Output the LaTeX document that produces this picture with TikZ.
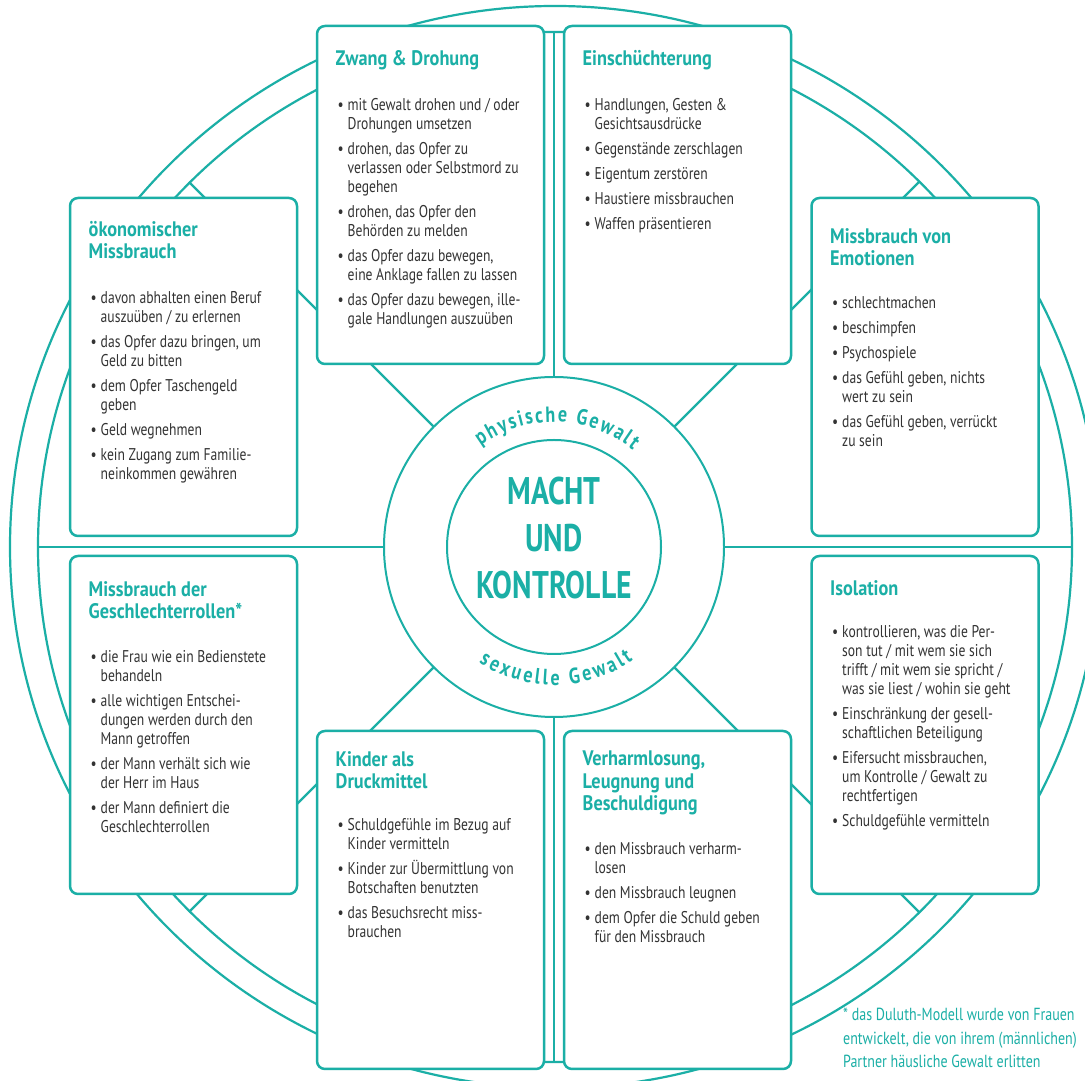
\documentclass[tikz,border=0pt]{standalone}
\usepackage{fontspec}
\usepackage{xcolor}
\usepackage{tikz}
\usetikzlibrary{positioning, calc, decorations.text}
\setmainfont{PT Sans}
\newfontfamily\bodyfont{PT Sans}[FakeStretch=0.80]
\newfontfamily\headfont{PT Sans}[FakeStretch=0.87]
\newfontfamily\corefont{PT Sans}[FakeStretch=0.77]
\newfontfamily\ringfont{PT Sans Bold}[FakeStretch=0.82]
\definecolor{wheelteal}{HTML}{1BAFA6}
\definecolor{inkgray}{HTML}{333333}
\newcommand{\bul}{\makebox[10pt][l]{\textbullet}}
\newcommand{\ind}{\hspace*{10pt}}
\newcommand{\arcfont}{\ringfont\fontsize{22}{24}\selectfont}

\begin{document}
\begin{tikzpicture}[
    x=1pt, y=1pt,
    rim/.style={draw=wheelteal, line width=2.2pt},
    spoke/.style={draw=wheelteal, line width=2.2pt},
    hubring/.style={circle, draw=wheelteal, line width=2pt, fill=white, inner sep=0pt, outer sep=0pt},
    panel/.style={rectangle, draw=wheelteal, line width=2.5pt, rounded corners=8pt, fill=white, minimum width=227pt, minimum height=338pt, inner sep=0pt, outer sep=0pt},
    heading/.style={anchor=north west, inner sep=0pt, align=left, text=wheelteal, font=\headfont\bfseries\fontsize{21}{22.5}\selectfont},
    points/.style={anchor=north west, inner sep=0pt, align=left, text=inkgray, font=\bodyfont\fontsize{17}{19}\selectfont},
    core/.style={align=center, inner sep=0pt, text=wheelteal, font=\corefont\bfseries\fontsize{38.5}{47}\selectfont},
    arctext/.style={decorate, font=\arcfont, decoration={text along path, text align={fit to path}, text color=wheelteal}}
]
\clip (0,0) rectangle (1085,1081);
\fill[white] (0,0) rectangle (1085,1081);

% Wheel rims
\draw[rim] (555,534) ellipse [x radius=545, y radius=541];
\draw[rim] (555,534) ellipse [x radius=517, y radius=515];

\coordinate (rimN) at (554,1049);
\coordinate (rimS) at (554,19);
\coordinate (rimW) at (38,534);
\coordinate (rimE) at (1072,534);
\coordinate (rimNW) at (189,899);
\coordinate (rimNE) at (919,899);
\coordinate (rimSW) at (189,169);
\coordinate (rimSE) at (919,169);

% Hub and spokes
\node[hubring, minimum size=340pt] (hub) at (554,534) {};
\node[hubring, minimum size=214pt] (inner) at (hub.center) {};
\draw[spoke] (hub.north) -- (rimN);
\draw[spoke] (hub.south) -- (rimS);
\draw[spoke] (hub.west) -- (rimW);
\draw[spoke] (hub.east) -- (rimE);
\draw[spoke] (hub.north west) -- (rimNW);
\draw[spoke] (hub.north east) -- (rimNE);
\draw[spoke] (hub.south west) -- (rimSW);
\draw[spoke] (hub.south east) -- (rimSE);

\node[core] (macht) at (554,543) {MACHT\\UND\\KONTROLLE};
\path[arctext, decoration={text={|\arcfont|physische Gewalt}}]
    ($(hub.center)+(126:125)$) arc[start angle=126, end angle=51, radius=125];
\path[arctext, decoration={text={|\arcfont|sexuelle Gewalt}}]
    ($(hub.center)+(237:138)$) arc[start angle=237, end angle=305, radius=138];

% Zwang & Drohung
\node[panel] (zwang) at (430.5,886) {};
\node[heading, below right=24pt and 18.5pt of zwang.north west] (zwanghead) {Zwang \& Drohung};
\node[points, below right=72pt and 20.5pt of zwang.north west] (zwangpts) {\bul mit Gewalt drohen und / oder\\\ind Drohungen umsetzen
 \\[6pt]\bul drohen, das Opfer zu\\\ind verlassen oder Selbstmord zu\\\ind begehen
 \\[6pt]\bul drohen, das Opfer den\\\ind Behörden zu melden
 \\[6pt]\bul das Opfer dazu bewegen,\\\ind eine Anklage fallen zu lassen
 \\[6pt]\bul das Opfer dazu bewegen, ille-\\\ind gale Handlungen auszuüben};

% Einschuechterung
\node[panel, right=20pt of zwang] (einsch) {};
\node[heading, below right=24pt and 18.5pt of einsch.north west] (einschhead) {Einschüchterung};
\node[points, below right=72pt and 20.5pt of einsch.north west] (einschpts) {\bul Handlungen, Gesten \&\\\ind Gesichtsausdrücke
 \\[6pt]\bul Gegenstände zerschlagen
 \\[6pt]\bul Eigentum zerstören
 \\[6pt]\bul Haustiere missbrauchen
 \\[6pt]\bul Waffen präsentieren};

% oekonomischer Missbrauch
\node[panel] (oekon) at (183.5,714) {};
\node[heading, below right=23pt and 18.5pt of oekon.north west] (oekonhead) {ökonomischer\\Missbrauch};
\node[points, below right=93pt and 20.5pt of oekon.north west] (oekonpts) {\bul davon abhalten einen Beruf\\\ind auszuüben / zu erlernen
 \\[6pt]\bul das Opfer dazu bringen, um\\\ind Geld zu bitten
 \\[6pt]\bul dem Opfer Taschengeld\\\ind geben
 \\[6pt]\bul Geld wegnehmen
 \\[6pt]\bul kein Zugang zum Familie-\\\ind neinkommen gewähren};

% Missbrauch von Emotionen
\node[panel] (emot) at (925,714) {};
\node[heading, below right=30pt and 18.5pt of emot.north west] (emothead) {Missbrauch von\\Emotionen};
\node[points, below right=98pt and 20.5pt of emot.north west] (emotpts) {\bul schlechtmachen
 \\[6pt]\bul beschimpfen
 \\[6pt]\bul Psychospiele
 \\[6pt]\bul das Gefühl geben, nichts\\\ind wert zu sein
 \\[6pt]\bul das Gefühl geben, verrückt\\\ind zu sein};

% Missbrauch der Geschlechterrollen
\node[panel, below=20pt of oekon] (geschl) {};
\node[heading, below right=25pt and 18.5pt of geschl.north west] (geschlhead) {Missbrauch der\\Geschlechterrollen*};
\node[points, below right=94pt and 20.5pt of geschl.north west] (geschlpts) {\bul die Frau wie ein Bedienstete\\\ind behandeln
 \\[6pt]\bul alle wichtigen Entschei-\\\ind dungen werden durch den\\\ind Mann getroffen
 \\[6pt]\bul der Mann verhält sich wie\\\ind der Herr im Haus
 \\[6pt]\bul der Mann definiert die\\\ind Geschlechterrollen};

% Isolation
\node[panel, below=20pt of emot] (isol) {};
\node[heading, below right=24pt and 18.5pt of isol.north west] (isolhead) {Isolation};
\node[points, below right=69pt and 20.5pt of isol.north west] (isolpts) {\bul kontrollieren, was die Per-\\\ind son tut / mit wem sie sich\\\ind trifft / mit wem sie spricht /\\\ind was sie liest / wohin sie geht
 \\[6pt]\bul Einschränkung der gesell-\\\ind schaftlichen Beteiligung
 \\[6pt]\bul Eifersucht missbrauchen,\\\ind um Kontrolle / Gewalt zu\\\ind rechtfertigen
 \\[6pt]\bul Schuldgefühle vermitteln};

% Kinder als Druckmittel
\node[panel] (kinder) at (430.5,181) {};
\node[heading, below right=20pt and 18.5pt of kinder.north west] (kinderhead) {Kinder als\\Druckmittel};
\node[points, below right=87pt and 20.5pt of kinder.north west] (kinderpts) {\bul Schuldgefühle im Bezug auf\\\ind Kinder vermitteln
 \\[6pt]\bul Kinder zur Übermittlung von\\\ind Botschaften benutzten
 \\[6pt]\bul das Besuchsrecht miss-\\\ind brauchen};

% Verharmlosung, Leugnung und Beschuldigung
\node[panel, right=20pt of kinder] (verharm) {};
\node[heading, below right=20pt and 18.5pt of verharm.north west] (verharmhead) {Verharmlosung,\\Leugnung und\\Beschuldigung};
\node[points, below right=111pt and 20.5pt of verharm.north west] (verharmpts) {\bul den Missbrauch verharm-\\\ind losen
 \\[6pt]\bul den Missbrauch leugnen
 \\[6pt]\bul dem Opfer die Schuld geben\\\ind für den Missbrauch};

% Footnote
\node[points, text=wheelteal, font=\bodyfont\fontsize{17.5}{23.5}\selectfont] (note) at (843,73) {* das Duluth-Modell wurde von Frauen\\entwickelt, die von ihrem (männlichen)\\Partner häusliche Gewalt erlitten};

\end{tikzpicture}
\end{document}
